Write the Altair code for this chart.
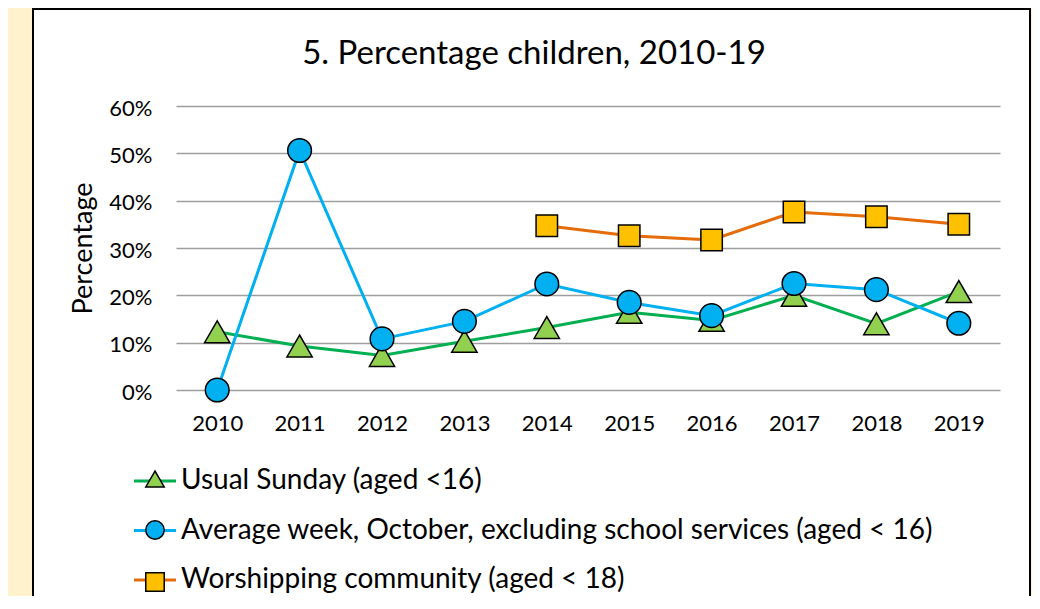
import altair as alt
import pandas as pd

years = ["2010", "2011", "2012", "2013", "2014", "2015", "2016", "2017", "2018", "2019"]
series_names = [
    "Usual Sunday (aged <16)",
    "Average week, October, excluding school services (aged < 16)",
    "Worshipping community (aged < 18)",
]
usual = [12.3, 9.3, 7.3, 10.3, 13.2, 16.4, 14.7, 20.0, 14.0, 20.8]
average = [0.0, 50.6, 10.8, 14.5, 22.4, 18.5, 15.7, 22.5, 21.2, 14.1]
worship = [None, None, None, None, 34.7, 32.6, 31.7, 37.6, 36.6, 35.0]
y_ticks = [0, 0.1, 0.2, 0.3, 0.4, 0.5, 0.6]

line_colors = ["#00B050", "#00B0F0", "#E46C0A"]
marker_fills = ["#92D050", "#00B0F0", "#FFC000"]
marker_edges = ["black", "black", "black"]
marker_shapes = ["triangle-up", "circle", "square"]
marker_keys = ["m1", "m2", "m3"]
marker_sizes = [640, 560, 460]

rows = []
for name, key, vals in zip(series_names, marker_keys, [usual, average, worship]):
    for yr, v in zip(years, vals):
        if v is not None:
            rows.append({"year": yr, "value": v / 100.0, "series": name, "mkey": key})
df = pd.DataFrame(rows)

FONT = "Lato"
W, H = 824, 284
YELLOW = "#FFF2CC"

x_enc = alt.X(
    "year:N",
    sort=years,
    scale=alt.Scale(type="point", domain=years, padding=0.5),
    axis=alt.Axis(title=None, labelAngle=0, ticks=False, domain=False, grid=False,
                  labelPadding=23, labelFont=FONT, labelFontSize=22, labelColor="black"),
)
y_enc = alt.Y(
    "value:Q",
    scale=alt.Scale(domain=[0, 0.6]),
    axis=alt.Axis(format=".0%", values=y_ticks, title="Percentage", ticks=False, tickSize=0,
                  domain=False, grid=True, gridColor="#9E9E9E", gridWidth=1.5,
                  labelPadding=24, labelOffset=2, labelFont=FONT, labelFontSize=22,
                  labelColor="black", titleFont=FONT, titleFontSize=27,
                  titleFontWeight="normal", titleColor="black", titleAngle=-90,
                  titleX=-85, titleY=H / 2, titleAlign="center",
                  titleBaseline="alphabetic"),
)

line_legend = alt.Legend(
    title=None, orient="none", legendX=-43.5, legendY=352.5, direction="vertical",
    symbolType="stroke", symbolSize=1764, symbolStrokeWidth=3,
    labelFont=FONT, labelFontSize=28, labelColor="black", labelOffset=3.5,
    labelLimit=1000, rowPadding=12.5, padding=0,
)
marker_legend = alt.Legend(
    title=None, orient="none", legendX=-33, legendY=361, direction="vertical",
    symbolSize=340, symbolOpacity=1, symbolStrokeWidth=1.5,
    labelFont=FONT, labelFontSize=24, labelExpr="''", rowPadding=26, padding=0,
)

color_enc = alt.Color("series:N", scale=alt.Scale(domain=series_names, range=line_colors),
                      legend=line_legend)
fill_enc = alt.Fill("mkey:N", scale=alt.Scale(domain=marker_keys, range=marker_fills),
                    legend=marker_legend)
stroke_enc = alt.Stroke("mkey:N", scale=alt.Scale(domain=marker_keys, range=marker_edges),
                        legend=marker_legend)
shape_enc = alt.Shape("mkey:N", scale=alt.Scale(domain=marker_keys, range=marker_shapes),
                      legend=marker_legend)

one = alt.Data(values=[{"a": 1}])
left_strip = alt.Chart(one).mark_rect(fill=YELLOW).encode(
    x=alt.value(-175), x2=alt.value(-143), y=alt.value(-98), y2=alt.value(540))
right_strip = alt.Chart(one).mark_rect(fill=YELLOW).encode(
    x=alt.value(854), x2=alt.value(880), y=alt.value(-98), y2=alt.value(540))
box = alt.Chart(one).mark_rect(fill="transparent", stroke="black", strokeWidth=2).encode(
    x=alt.value(-143), x2=alt.value(854), y=alt.value(-97), y2=alt.value(540))

layers = [left_strip, right_strip, box]
for i, name in enumerate(series_names):
    sub = alt.Chart(df).transform_filter(alt.datum.series == name)
    layers.append(sub.mark_line(strokeWidth=3).encode(x=x_enc, y=y_enc, color=color_enc))
    layers.append(
        sub.mark_point(filled=True, size=marker_sizes[i], strokeWidth=1.5,
                       opacity=1).encode(x=x_enc, y=y_enc, fill=fill_enc,
                                         stroke=stroke_enc, shape=shape_enc)
    )

chart = alt.layer(*layers).properties(
    width=W, height=H,
    title=alt.TitleParams("5. Percentage children, 2010-19", font=FONT, fontSize=33,
                          fontWeight="normal", color="black", anchor="middle",
                          baseline="alphabetic", offset=-89, dx=-54),
    background="white",
    padding={"left": 168, "top": 98, "right": 32, "bottom": 206},
    autosize=alt.AutoSizeParams(type="none"),
).configure_view(stroke=None)

chart.save("out.html", embed_options={"renderer": "svg", "actions": False})
